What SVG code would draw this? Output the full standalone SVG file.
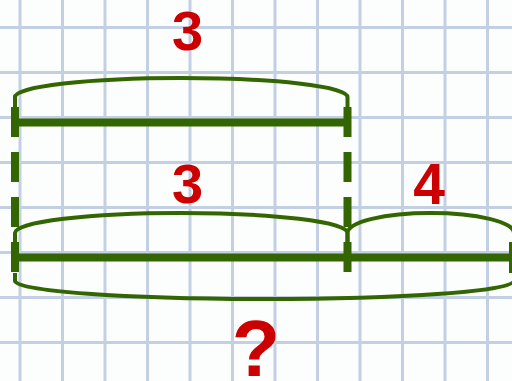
<svg xmlns="http://www.w3.org/2000/svg" width="512" height="381" viewBox="0 0 512 381">
<style>
.grid line{stroke:#c3cfe2;stroke-width:3;}
.grid .c line{stroke:#a9b7cf;stroke-width:1;}
.bar{stroke:#336600;stroke-width:8;fill:none;stroke-linecap:butt;}
.dash{stroke:#336600;stroke-width:8;fill:none;stroke-dasharray:30 15;}
.brace{stroke:#336600;stroke-width:4;fill:none;}
.lbl{font-family:"Liberation Sans",Arial,sans-serif;font-weight:bold;fill:#cc0000;text-anchor:middle;}
</style>
<rect width="512" height="381" fill="#fcfdfd"/>
<g id="grid" class="grid">
<g id="grid-v">
<line x1="20" y1="0" x2="20" y2="381"/><line x1="62.5" y1="0" x2="62.5" y2="381"/><line x1="105" y1="0" x2="105" y2="381"/><line x1="147.5" y1="0" x2="147.5" y2="381"/><line x1="190" y1="0" x2="190" y2="381"/><line x1="232.5" y1="0" x2="232.5" y2="381"/><line x1="275" y1="0" x2="275" y2="381"/><line x1="317.5" y1="0" x2="317.5" y2="381"/><line x1="360" y1="0" x2="360" y2="381"/><line x1="402.5" y1="0" x2="402.5" y2="381"/><line x1="445" y1="0" x2="445" y2="381"/><line x1="487.5" y1="0" x2="487.5" y2="381"/>
</g>
<g id="grid-h">
<line x1="0" y1="27.5" x2="512" y2="27.5"/><line x1="0" y1="72.5" x2="512" y2="72.5"/><line x1="0" y1="117.5" x2="512" y2="117.5"/><line x1="0" y1="162.5" x2="512" y2="162.5"/><line x1="0" y1="207.5" x2="512" y2="207.5"/><line x1="0" y1="252.5" x2="512" y2="252.5"/><line x1="0" y1="297.5" x2="512" y2="297.5"/><line x1="0" y1="342.5" x2="512" y2="342.5"/>
</g>
</g>
<g id="top-segment">
<line class="bar" x1="15" y1="122.5" x2="347.5" y2="122.5"/>
<path class="brace" d="M15,107 L15,97 A166.25,19 0 0 1 347.5,97 L347.5,107"/>
<text class="lbl" x="187.5" y="50" font-size="56">3</text>
</g>
<g id="connectors">
<line class="dash" x1="15" y1="107" x2="15" y2="273"/>
<line class="dash" x1="347.5" y1="107" x2="347.5" y2="273"/>
</g>
<g id="bottom-segment">
<line class="bar" x1="15" y1="257.5" x2="516" y2="257.5"/>
<line class="bar" x1="513" y1="242" x2="513" y2="273"/>
<path class="brace" d="M15,242 L15,233 A166.25,20 0 0 1 347.5,233 L347.5,242"/>
<path class="brace" d="M347.5,242 L347.5,233 A83.25,20 0 0 1 514,233 L514,242"/>
<path class="brace" d="M15,273 L15,281 A249.5,18 0 0 0 514,281 L514,273"/>
<text class="lbl" x="187.5" y="203" font-size="56">3</text>
<text class="lbl" x="429" y="204" font-size="57">4</text>
<text class="lbl" x="256" y="376" font-size="79">?</text>
</g>
</svg>
